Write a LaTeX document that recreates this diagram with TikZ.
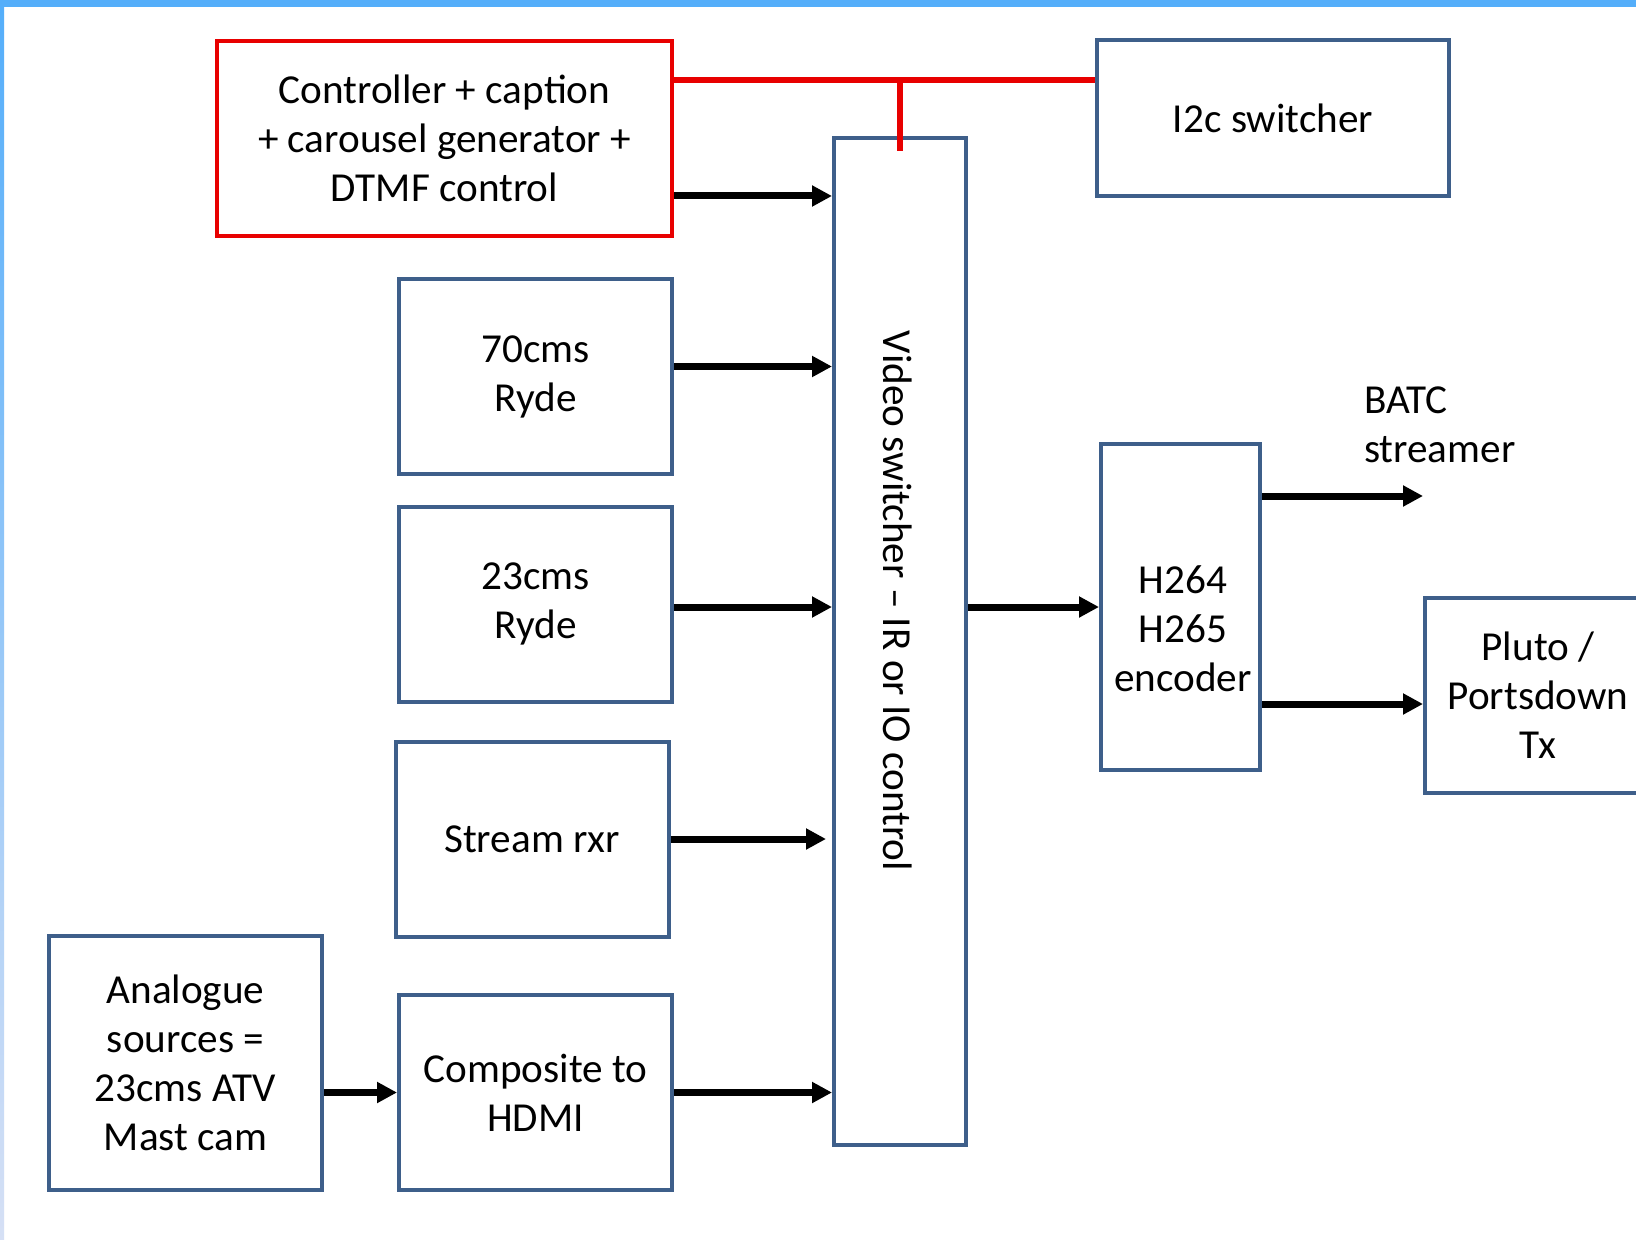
\documentclass[tikz,border=0pt]{standalone}
\usepackage{fontspec}
\setmainfont{Carlito}
\usetikzlibrary{arrows.meta,calc}
\definecolor{boxblue}{RGB}{62, 95, 138}
\definecolor{busred}{RGB}{232, 0, 0}
\definecolor{frameblue}{RGB}{84, 174, 250}
\definecolor{framelight}{RGB}{214, 224, 245}
\tikzset{
	blk/.style={draw=boxblue, line width=2pt, align=center, inner sep=0pt},
	ctrlblk/.style={draw=busred, line width=2pt, align=center, inner sep=0pt},
	arr/.style={line width=3.5pt, -{Triangle[length=10pt, width=10pt]}},
	bus/.style={busred, line width=3pt},
}

\begin{document}
\begin{tikzpicture}[x=0.5pt, y=-0.5pt, font=\fontsize{20.6}{24.5}\selectfont]
			\useasboundingbox (0,0) rectangle (1636,1240);
			\begin{scope}
			\clip (0,0) rectangle (1636,1240);

			% cadre
			\fill[white] (0,0) rectangle (1636,1240);
			\shade[top color=frameblue, bottom color=framelight] (0,0) rectangle (4,1240);
			\fill[frameblue] (0,0) rectangle (1636,7);

			% boites
			\node[ctrlblk, minimum width=227.5pt, minimum height=97.5pt] (ctrl) at (444.5,138.5)
				{Controller + caption\\+ carousel generator +\\DTMF control};
			\node[blk, minimum width=176pt, minimum height=78pt] (i2c) at (1273,118) {I2c switcher};
			\node[blk, minimum width=66pt, minimum height=503.5pt] (sw) at (900,641.5) {};
			\node[rotate=-90] (swtext) at (898,601) {Video switcher -- IR or IO control};

			\foreach \nm/\xx/\yy/\txt in {ryde70/535.5/376.5/{70cms\\Ryde},
				ryde23/535.5/604/{23cms\\Ryde},
				rxr/532/839/{Stream rxr},
				hdmi/535.5/1092.5/{Composite to\\HDMI}} {
				\node[blk, minimum width=136.5pt, minimum height=97.5pt] (\nm) at (\xx,\yy) {\txt};
			}
			\node[blk, minimum width=136.5pt, minimum height=127pt] (ana) at (185.5,1063)
				{Analogue\\sources =\\23cms ATV\\Mast cam};

			\node[blk, minimum width=79.5pt, minimum height=163pt] (enc) at (1180.5,607) {};
			\node[align=center] (enctext) at (1183,629) {H264\\H265\\encoder};
			\node[blk, minimum width=113pt, minimum height=97.5pt] (pluto) at (1538,695.5)
				{Pluto /\\Portsdown\\Tx};
			\node[align=left, anchor=west] (batc) at (1357,425) {BATC\\streamer};

			% bus i2c
			\draw[bus] ($(ctrl.east)+(0,-58.5)$) coordinate (b) -- (b -| i2c.west);
			\draw[bus] (b -| sw.north) -- ++(0,71);

			% fleches
			\draw[arr] ($(ctrl.east)+(0,57.5)$) coordinate (a) -- (a -| sw.west);
			\draw[arr] ($(ryde70.east)+(0,-10)$) coordinate (a) -- (a -| sw.west);
			\draw[arr] ($(ryde23.east)+(0,3)$) coordinate (a) -- (a -| sw.west);
			\draw[arr, shorten >=3pt] (rxr.east) -- (rxr.east -| sw.west);
			\draw[arr] (hdmi.east) -- (hdmi.east -| sw.west);
			\draw[arr] (hdmi.west -| ana.east) -- (hdmi.west);
			\draw[arr] (enc.west -| sw.east) -- (enc.west);
			\draw[arr] ($(enc.east)+(0,-111)$) coordinate (a) -- (a -| pluto.west);
			\draw[arr] ($(enc.east)+(0,97)$) coordinate (a) -- (a -| pluto.west);
			\end{scope}
		\end{tikzpicture}
\end{document}
